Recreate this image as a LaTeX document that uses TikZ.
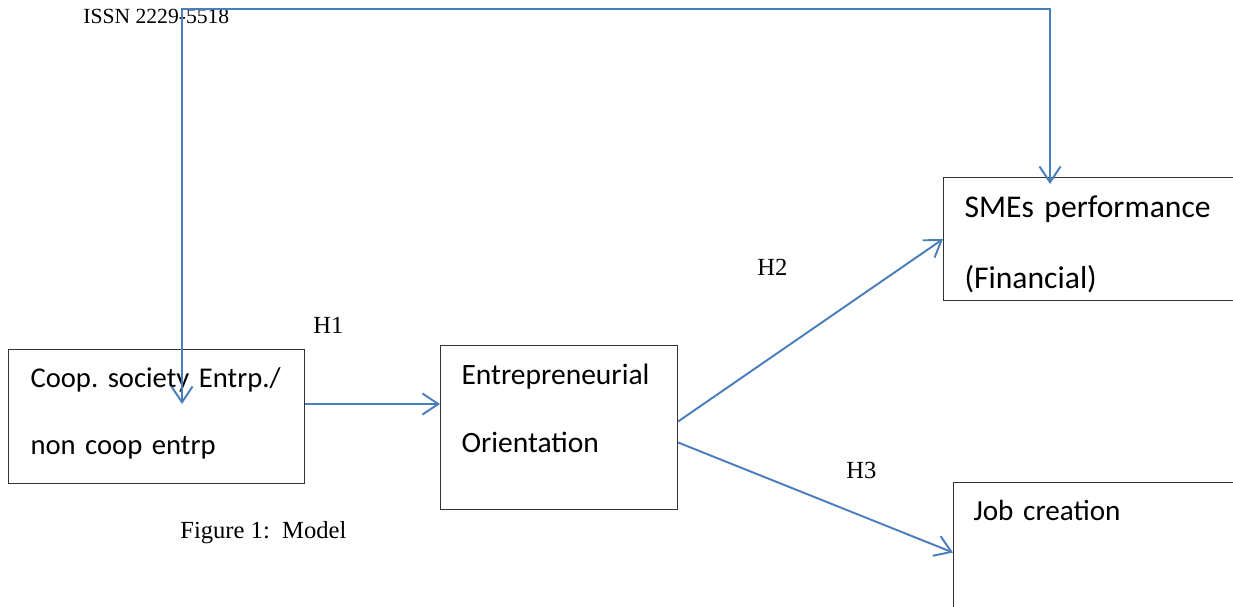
\documentclass[tikz,border=0pt]{standalone}
\usepackage{fontspec}
\setmainfont{Liberation Serif}
\newfontfamily\calibri{Carlito}
\usetikzlibrary{arrows.meta}
\definecolor{lineblue}{HTML}{4A7EBB}
\frenchspacing

\begin{document}
\begin{tikzpicture}[x=0.02cm, y=-0.02cm, >={Straight Barb[length=9pt,width=12pt]},
                    main node/.style={draw=black!80, line width=0.6pt, align=left, inner ysep=0pt,
                                      anchor=north west, font=\calibri\fontsize{#1}{20}\selectfont},
                    main node/.default=17,
                    flow/.style={draw=lineblue, line width=1.1pt},
                    hyp node/.style={anchor=base west, inner sep=0pt, font=\fontsize{14}{16}\selectfont}]

  \useasboundingbox (0,0) rectangle (1233,606);
  \clip (0,0) rectangle (1233,606);

  \node[anchor=base west, inner sep=0pt, font=\fontsize{12.3}{14}\selectfont] (0) at (83,23) {ISSN 2229-5518};

  \node[main node=16.3, text width=5.04cm, text height=0.76cm, text depth=1.92cm, inner xsep=0.44cm] (1) at (8,349)
    {\mbox{Coop. society Entrp./}\\[18pt]non coop entrp};
  \node[main node=16.8, text width=3.9cm, text height=0.78cm, text depth=2.5cm, inner xsep=0.42cm] (2) at (440,345)
    {Entrepreneurial\\[18.5pt]Orientation};
  \node[main node=18, text width=5.56cm, text height=0.8cm, text depth=1.66cm, inner xsep=0.42cm] (3) at (943,177)
    {SMEs performance\\[20.3pt](Financial)};
  \node[main node=16.6, text width=5.6cm, text height=0.76cm, text depth=2.04cm, inner xsep=0.4cm] (4) at (953,482)
    {Job creation};

  \node[hyp node] (h1) at (313,333) {H1};
  \node[hyp node] (h2) at (757,275) {H2};
  \node[hyp node] (h3) at (846,478) {H3};
  \node[hyp node] (fig) at (180,538) {Figure 1:\ \ Model};

  \coordinate (a) at (182,404);
  \coordinate (b) at (1050,184);
  \coordinate (t) at (600,9);

  \draw[flow, <->] (a) |- (t) -| (b);
  \draw[flow, ->] (1.east |- a) -- (2.west |- a);
  \draw[flow, ->] ([yshift=3.4pt]2.east) -- (3.west);
  \draw[flow, ->] ([yshift=-8.5pt]2.east) -- (4.west);

\end{tikzpicture}
\end{document}
